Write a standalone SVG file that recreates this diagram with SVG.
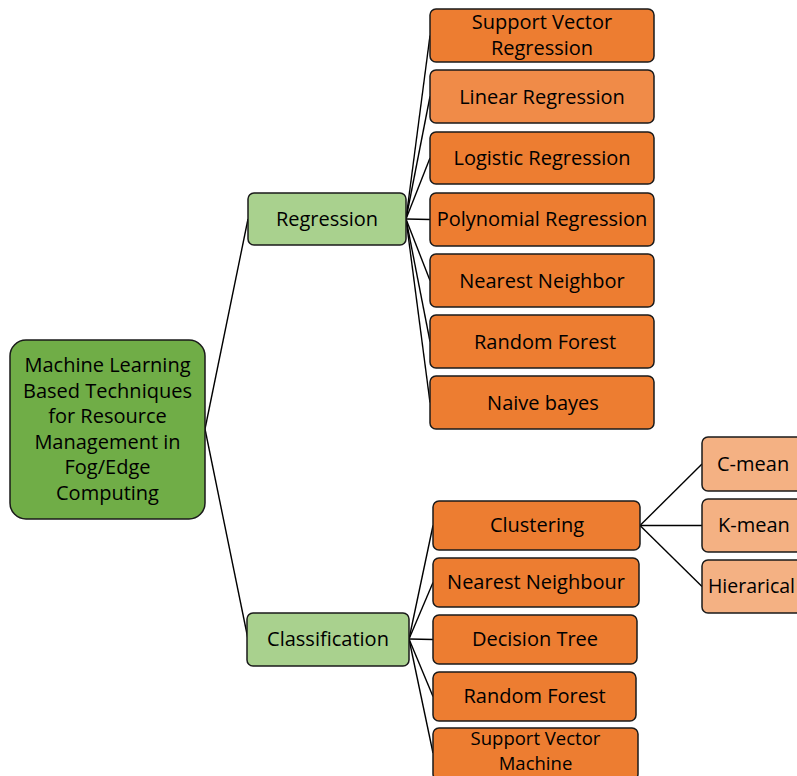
<svg xmlns="http://www.w3.org/2000/svg" width="797" height="776" viewBox="0 0 797 776">
<style>
text{font-family:"Open Sans","Liberation Sans",sans-serif;font-size:20px;fill:#000;text-anchor:middle}
.b{stroke:#1a1a1a;stroke-width:1.5}
.root{fill:#70AD47}
.lvl1{fill:#A9D18E}
.or{fill:#ED7D31}
.orl{fill:#F08B48}
.pe{fill:#F4B183}
.c line{stroke:#000;stroke-width:1.4}
</style>
<rect width="797" height="776" fill="#fff"/>
<g class="c" id="connectors">
<line x1="205" y1="429" x2="248" y2="219"/>
<line x1="205" y1="429" x2="248" y2="639"/>
<line x1="406" y1="219" x2="430" y2="35.5"/>
<line x1="406" y1="219" x2="430" y2="96.5"/>
<line x1="406" y1="219" x2="430" y2="158"/>
<line x1="406" y1="219" x2="430" y2="219.5"/>
<line x1="406" y1="219" x2="430" y2="280.5"/>
<line x1="406" y1="219" x2="430" y2="341.5"/>
<line x1="406" y1="219" x2="430" y2="402.5"/>
<line x1="409" y1="639" x2="433" y2="525.5"/>
<line x1="409" y1="639" x2="433" y2="582.5"/>
<line x1="409" y1="639" x2="433" y2="639.5"/>
<line x1="409" y1="639" x2="433" y2="696.5"/>
<line x1="409" y1="639" x2="433" y2="753"/>
<line x1="640" y1="525.5" x2="702" y2="464"/>
<line x1="640" y1="525.5" x2="702" y2="525.5"/>
<line x1="640" y1="525.5" x2="702" y2="586.5"/>
</g>
<g id="root"><rect class="b root" x="10" y="340" width="195" height="179" rx="16"/>
<text x="107.5" y="372">Machine Learning</text><text x="107.5" y="398">Based Techniques</text><text x="107.5" y="423">for Resource</text><text x="107.5" y="449">Management in</text><text x="107.5" y="474">Fog/Edge</text><text x="107.5" y="500">Computing</text></g>
<g id="regression"><rect class="b lvl1" x="248" y="193" width="158" height="52" rx="6"/><text x="327" y="226">Regression</text></g>
<g id="classification"><rect class="b lvl1" x="247" y="613" width="162" height="53" rx="6"/><text x="328" y="646">Classification</text></g>
<g id="svr"><rect class="b or" x="430" y="9" width="224" height="53" rx="6"/><text x="542" y="29">Support Vector</text><text x="542" y="55">Regression</text></g>
<g id="linear"><rect class="b orl" x="430" y="70" width="224" height="53" rx="6"/><text x="542" y="104">Linear Regression</text></g>
<g id="logistic"><rect class="b or" x="430" y="132" width="224" height="52" rx="6"/><text x="542" y="165">Logistic Regression</text></g>
<g id="polynomial"><rect class="b or" x="430" y="193" width="224" height="53" rx="6"/><text x="542" y="226">Polynomial Regression</text></g>
<g id="nn-reg"><rect class="b or" x="430" y="254" width="224" height="53" rx="6"/><text x="542" y="288">Nearest Neighbor</text></g>
<g id="rf-reg"><rect class="b or" x="430" y="315" width="224" height="53" rx="6"/><text x="545" y="349">Random Forest</text></g>
<g id="nb"><rect class="b or" x="430" y="376" width="224" height="53" rx="6"/><text x="543" y="410">Naive bayes</text></g>
<g id="clustering"><rect class="b or" x="433" y="501" width="207" height="49" rx="6"/><text x="537" y="532">Clustering</text></g>
<g id="nn-cls"><rect class="b or" x="433" y="558" width="206" height="49" rx="6"/><text x="536" y="589">Nearest Neighbour</text></g>
<g id="dt"><rect class="b or" x="433" y="615" width="204" height="49" rx="6"/><text x="535" y="646">Decision Tree</text></g>
<g id="rf-cls"><rect class="b or" x="433" y="672" width="203" height="49" rx="6"/><text x="534.5" y="703">Random Forest</text></g>
<g id="svm"><rect class="b or" x="433" y="728" width="205" height="52" rx="6"/><text x="535.5" y="745" style="font-size:18.5px">Support Vector</text><text x="535.5" y="770" style="font-size:18.5px">Machine</text></g>
<g id="cmean"><rect class="b pe" x="702" y="437" width="130" height="54" rx="6"/><text x="717" y="471" style="text-anchor:start">C-mean</text></g>
<g id="kmean"><rect class="b pe" x="702" y="499" width="130" height="53" rx="6"/><text x="718" y="532" style="text-anchor:start">K-mean</text></g>
<g id="hier"><rect class="b pe" x="702" y="560" width="130" height="53" rx="6"/><text x="708" y="593" style="text-anchor:start" textLength="87" lengthAdjust="spacingAndGlyphs">Hierarical</text></g>
</svg>
